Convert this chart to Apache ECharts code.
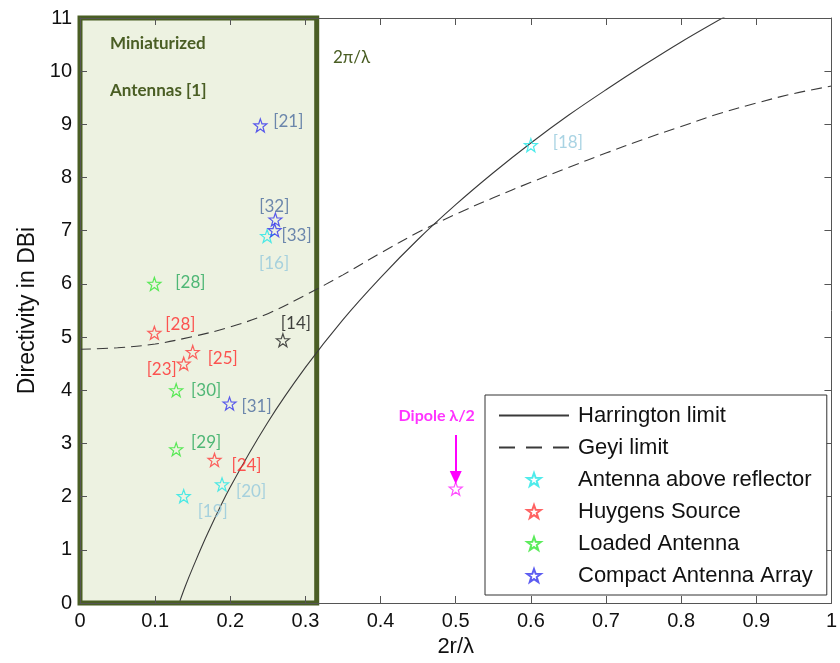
<!DOCTYPE html>
<html>
<head>
<meta charset="utf-8">
<script src="https://cdn.jsdelivr.net/npm/echarts@6/dist/echarts.min.js"></script>
<style>
html,body{margin:0;padding:0;background:#fff;}
#chart{width:840px;height:663px;}
</style>
</head>
<body>
<div id="chart"></div>
<script>
// ---------- data ----------
const xTicks = [0, 0.1, 0.2, 0.3, 0.4, 0.5, 0.6, 0.7, 0.8, 0.9, 1];
const yTicks = [0, 1, 2, 3, 4, 5, 6, 7, 8, 9, 10, 11];

const harringtonX = [0.133, 0.14, 0.15, 0.17, 0.2, 0.25, 0.3, 0.35, 0.4, 0.45, 0.5, 0.55, 0.6, 0.65, 0.7, 0.75, 0.8, 0.86];
const harringtonY = [0.04, 0.31, 0.66, 1.31, 2.18, 3.40, 4.43, 5.33, 6.12, 6.84, 7.49, 8.09, 8.65, 9.17, 9.65, 10.11, 10.55, 11.04];

const geyiX = [0, 0.05, 0.1, 0.15, 0.2, 0.25, 0.3, 0.35, 0.4, 0.45, 0.5, 0.55, 0.6, 0.65, 0.7, 0.75, 0.8, 0.85, 0.9, 0.95, 1.0];
const geyiY = [4.77, 4.80, 4.87, 5.01, 5.19, 5.44, 5.79, 6.17, 6.58, 6.97, 7.31, 7.62, 7.91, 8.19, 8.46, 8.72, 8.96, 9.20, 9.40, 9.58, 9.72];

const reflectorX = [0.249, 0.138, 0.189, 0.600];
const reflectorY = [6.90, 2.01, 2.23, 8.61];
const reflectorRef = ['[16]', '[19]', '[20]', '[18]'];

const huygensX = [0.099, 0.150, 0.138, 0.179];
const huygensY = [5.08, 4.72, 4.50, 2.69];
const huygensRef = ['[28]', '[25]', '[23]', '[24]'];

const loadedX = [0.099, 0.128, 0.128];
const loadedY = [6.00, 4.00, 2.89];
const loadedRef = ['[28]', '[30]', '[29]'];

const compactX = [0.240, 0.260, 0.259, 0.199];
const compactY = [8.98, 7.21, 7.01, 3.75];
const compactRef = ['[21]', '[32]', '[33]', '[31]'];

const otherX = [0.270];
const otherY = [4.94];
const otherRef = ['[14]'];

const dipoleX = [0.5];
const dipoleY = [2.15];
const dipoleRef = ['Dipole λ/2'];

const miniRegion = [0, 0.315];   // x-extent of the shaded "miniaturized" band

const legendNames = ['Harrington limit', 'Geyi limit', 'Antenna above reflector', 'Huygens Source', 'Loaded Antenna', 'Compact Antenna Array'];

// ---------- layout / style (not data) ----------
const labelOffsets = {
  reflector: [[7, 27], [29, 15], [29, 7], [37, -3]],
  huygens: [[26, -8], [30, 7], [-22, 6], [32, 6]],
  loaded: [[36, -1], [30, 0], [30, -7]],
  compact: [[28, -4], [-1, -13], [22, 5], [27, 3]],
  other: [[13, -17]],
  dipole: [[-19, -73]]
};
const arrowSpan = [1.01, 0.21]; // arrow start / end heights above dipole point

const STAR = 'path://M0,-10 L2.35,-3.24 L9.51,-3.09 L3.8,1.24 L5.88,8.09 L0,4 L-5.88,8.09 L-3.8,1.24 L-9.51,-3.09 L-2.35,-3.24 Z';
const refFont = 'Lato, "Open Sans", sans-serif';
const axisFont = '"Liberation Sans", Arial, sans-serif';
const olive = '#4a5e24';

function zip(xs, ys) { return xs.map((x, i) => [x, ys[i]]); }

function starSeries(name, key, xs, ys, refs, starColor, textColor, extra) {
  return Object.assign({
    name: name,
    type: 'scatter',
    symbol: STAR,
    symbolSize: 13,
    z: 4,
    itemStyle: { color: 'rgba(255,255,255,0)', borderColor: starColor, borderWidth: 1.2 },
    emphasis: { disabled: true },
    data: xs.map((x, i) => ({
      value: [x, ys[i]],
      label: {
        show: true,
        formatter: refs[i],
        position: 'inside',
        offset: labelOffsets[key][i],
        color: textColor,
        fontFamily: refFont,
        fontSize: 17,
        align: 'center',
        verticalAlign: 'middle'
      }
    }))
  }, extra || {});
}

const chart = echarts.init(document.getElementById('chart'), null, { renderer: 'canvas' });

const axisLineStyle = { color: '#555', width: 1 };

const option = {
  animation: false,
  backgroundColor: '#fff',
  grid: { left: 80, right: 2, top: 18, bottom: 60, containLabel: false },
  xAxis: [
    {
      type: 'value', min: 0, max: 1, interval: 0.1, position: 'bottom', z: 3,
      axisLine: { show: true, onZero: false, lineStyle: axisLineStyle },
      axisTick: { show: true, inside: true, length: 7, lineStyle: axisLineStyle },
      axisLabel: { fontSize: 20, color: '#111', fontFamily: axisFont, margin: 8,
        formatter: v => String(xTicks.find(t => Math.abs(t - v) < 1e-6) ?? v) },
      splitLine: { show: false },
      name: '2r/λ', nameLocation: 'middle', nameGap: 33,
      nameTextStyle: { fontSize: 22, color: '#111', fontFamily: axisFont }
    },
    {
      type: 'value', min: 0, max: 1, interval: 0.1, position: 'top', z: 3,
      axisLine: { show: true, onZero: false, lineStyle: axisLineStyle },
      axisTick: { show: true, inside: true, length: 7, lineStyle: axisLineStyle },
      axisLabel: { show: false }, splitLine: { show: false }
    }
  ],
  yAxis: [
    {
      type: 'value', min: 0, max: 11, interval: 1, position: 'left', z: 3,
      axisLine: { show: true, onZero: false, lineStyle: axisLineStyle },
      axisTick: { show: true, inside: true, length: 7, lineStyle: axisLineStyle },
      axisLabel: { fontSize: 20, color: '#111', fontFamily: axisFont, margin: 8,
        formatter: v => String(yTicks.find(t => Math.abs(t - v) < 1e-6) ?? v) },
      splitLine: { show: false },
      name: 'Directivity in DBi', nameLocation: 'middle', nameGap: 34, nameRotate: 90,
      nameTextStyle: { fontSize: 23, color: '#111', fontFamily: axisFont }
    },
    {
      type: 'value', min: 0, max: 11, interval: 1, position: 'right', z: 3,
      axisLine: { show: true, onZero: false, lineStyle: axisLineStyle },
      axisTick: { show: true, inside: true, length: 7, lineStyle: axisLineStyle },
      axisLabel: { show: false }, splitLine: { show: false }
    }
  ],
  legend: {
    data: legendNames.map((n, i) => {
      if (i === 0) return { name: n, itemStyle: { opacity: 0 } };
      if (i === 1) return { name: n, itemStyle: { opacity: 0 }, lineStyle: { type: [16, 11] } };
      return { name: n };
    }),
    orient: 'vertical',
    left: 485, top: 395,
    backgroundColor: '#fff',
    borderColor: '#333', borderWidth: 1,
    padding: [8, 14, 7, 13],
    itemWidth: 70, itemHeight: 13, itemGap: 7,
    textStyle: { fontSize: 22, color: '#111', fontFamily: axisFont, lineHeight: 25, padding: [0, 0, 0, 4] },
    selectedMode: false,
    z: 10
  },
  graphic: [
    { type: 'text', left: 110, top: 35, z: 20, style: { text: 'Miniaturized', fill: olive, font: 'bold 17px ' + refFont } },
    { type: 'text', left: 110, top: 82, z: 20, style: { text: 'Antennas [1]', fill: olive, font: 'bold 17px ' + refFont } },
    { type: 'text', left: 333, top: 49, z: 20, style: { text: '2π/λ', fill: olive, font: '17px ' + refFont } }
  ],
  series: [
    {
      name: 'miniBand', type: 'line', data: [], z: 1, silent: true,
      markArea: {
        silent: true,
        itemStyle: { color: '#edf2e1', borderColor: olive, borderWidth: 5 },
        data: [[{ coord: [miniRegion[0], 0] }, { coord: [miniRegion[1], 11] }]]
      }
    },
    {
      name: 'Harrington limit', type: 'line', smooth: 0.35, symbol: 'none', showSymbol: false,
      clip: true, z: 2,
      lineStyle: { color: '#3a3a3a', width: 1.1, type: 'solid' },
      itemStyle: { color: '#3a3a3a' },
      emphasis: { disabled: true },
      data: zip(harringtonX, harringtonY)
    },
    {
      name: 'Geyi limit', type: 'line', smooth: 0.35, symbol: 'none', showSymbol: false,
      clip: true, z: 2,
      lineStyle: { color: '#3a3a3a', width: 1.1, type: [11, 6] },
      itemStyle: { color: '#3a3a3a' },
      emphasis: { disabled: true },
      data: zip(geyiX, geyiY)
    },
    starSeries('Antenna above reflector', 'reflector', reflectorX, reflectorY, reflectorRef, '#22e6e6', '#94c8dc'),
    starSeries('Huygens Source', 'huygens', huygensX, huygensY, huygensRef, '#ff3b3b', '#ff2a2a'),
    starSeries('Loaded Antenna', 'loaded', loadedX, loadedY, loadedRef, '#33e633', '#27a85a'),
    starSeries('Compact Antenna Array', 'compact', compactX, compactY, compactRef, '#3333ee', '#4a6a9e'),
    starSeries('other', 'other', otherX, otherY, otherRef, '#222', '#111'),
    starSeries('Dipole', 'dipole', dipoleX, dipoleY, dipoleRef, '#ff22ff', '#ff00ff', {
      markLine: {
        silent: true,
        symbol: ['none', 'triangle'],
        symbolSize: [12, 13],
        label: { show: false },
        lineStyle: { color: '#ff00ff', width: 2, type: 'solid' },
        data: [[
          { coord: [dipoleX[0], dipoleY[0] + arrowSpan[0]] },
          { coord: [dipoleX[0], dipoleY[0] + arrowSpan[1]] }
        ]]
      }
    })
  ]
};
// bold dipole label
option.series[option.series.length - 1].data[0].label.fontWeight = 'bold';
option.series[option.series.length - 1].data[0].label.fontSize = 16;

chart.setOption(option);
</script>
</body>
</html>
